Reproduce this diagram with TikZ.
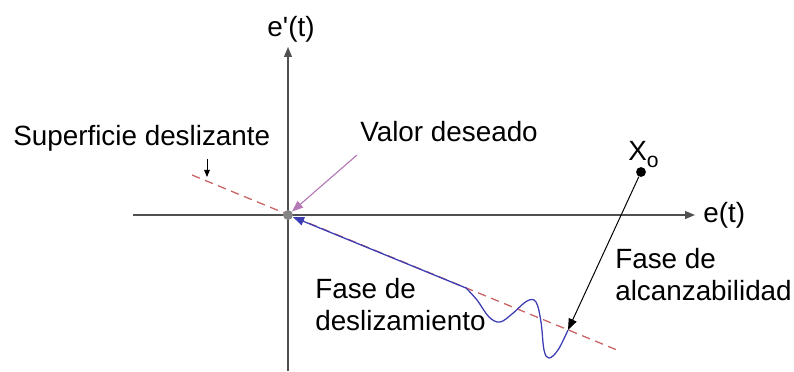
\documentclass[tikz,border=0pt]{standalone}
\usepackage{fontspec}
\setmainfont{Liberation Sans}
\usetikzlibrary{arrows.meta}
\definecolor{axisgray}{HTML}{505050}
\definecolor{surfred}{HTML}{C86464}
\definecolor{slideblue}{HTML}{3C3CB4}
\definecolor{pointpink}{HTML}{B478B4}
\begin{document}
\begin{tikzpicture}[x=0.025cm,y=-0.025cm,
  lbl/.style={font=\fontsize{19.8}{22.5}\selectfont, inner sep=0pt, align=left},
  axis/.style={draw=axisgray, line width=1.1pt, -{Triangle[length=7pt,width=5.5pt]}},
  surface/.style={draw=surfred, line width=0.9pt, dash pattern=on 6pt off 4pt},
  sliding/.style={draw=slideblue, line width=0.9pt, -{Triangle[length=8pt,width=6pt]}},
  reaching/.style={draw=black, line width=0.7pt, -{Triangle[length=8pt,width=6pt]}}]
  \useasboundingbox (0,0) rectangle (794,371);
  % axes
  \coordinate (xl) at (133,215);
  \coordinate (xr) at (695,215);
  \coordinate (yb) at (288,371);
  \coordinate (yt) at (288,47);
  \draw[axis] (xl) -- (xr);
  \draw[axis] (yb) -- (yt);
  \node[lbl, anchor=base west] (ex) at (703,222) {e(t)};
  \node[lbl, anchor=base] (dex) at (291,36) {e\textquotesingle(t)};
  % sliding surface
  \coordinate (s1) at (192,175);
  \coordinate (s2) at (617,350);
  \draw[surface] (s1) -- (s2);
  \node[fill=axisgray!70, circle, inner sep=0pt, minimum size=7pt] (goal) at (288,215) {};
  \node[lbl, anchor=base west] (surflbl) at (13,145) {Superficie deslizante};
  \coordinate (st) at (207,159);
  \coordinate (sb) at (207,177);
  \draw[-{Triangle[length=5pt,width=4pt]}, line width=0.6pt] (st) -- (sb);
  \node[lbl, anchor=base west] (goallbl) at (360,141) {Valor deseado};
  \coordinate (pk) at (357,155);
  \draw[draw=pointpink, line width=0.8pt, -{Triangle[length=8pt,width=6pt]}] (pk) -- (goal);
  % initial state and reaching phase
  \node[fill=black, circle, inner sep=0pt, minimum size=7pt] (xo) at (641,172) {};
  \node[lbl, anchor=base west] (xolbl) at (628,160) {X\raisebox{-0.5ex}{\fontsize{15}{15}\selectfont o}};
  \coordinate (hit) at (568,330);
  \draw[reaching] (xo) -- (hit);
  \node[lbl, anchor=north west] (reachlbl) at (615,248) {Fase de\\alcanzabilidad};
  % sliding phase
  \draw[sliding] plot[smooth, tension=0.6] coordinates {(568,330) (558,350) (549,358) (544,350) (541,322) (536,302) (527,301) (512,314) (500,322) (489,317) (477,300) (466,288)} -- (goal);
  \node[lbl, anchor=north west] (slidelbl) at (315,278) {Fase de\\deslizamiento};
\end{tikzpicture}
\end{document}
